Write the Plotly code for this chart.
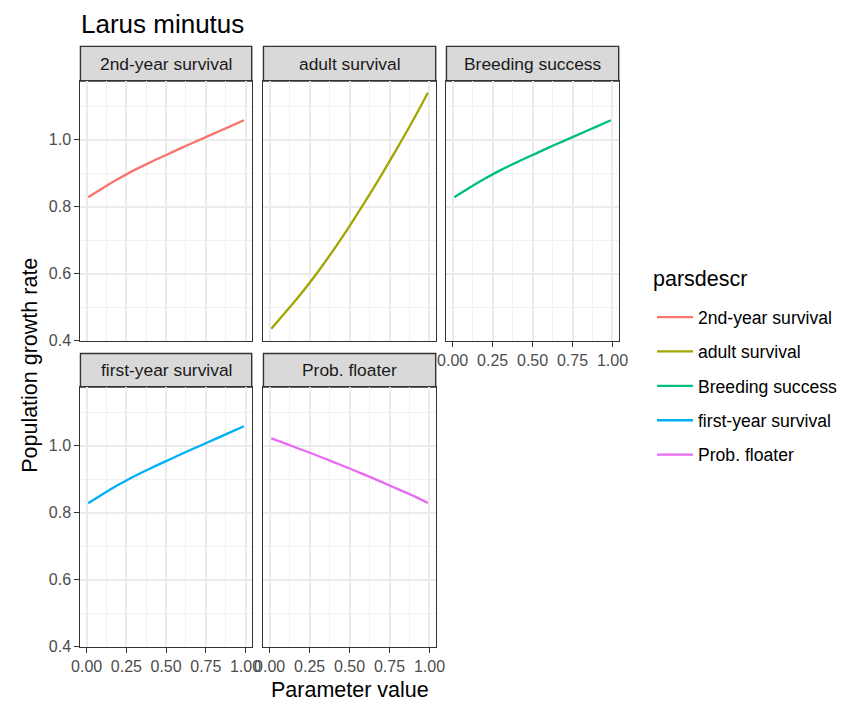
import plotly.graph_objects as go

# Parameter values along which the growth rate was evaluated
param_value = [0.01, 0.1, 0.2, 0.3, 0.4, 0.5, 0.6, 0.7, 0.8, 0.9, 0.99]

# Population growth rate per perturbed parameter
second_year_survival = [0.828, 0.855, 0.883, 0.909, 0.932, 0.954, 0.976, 0.997, 1.018, 1.039, 1.058]
adult_survival = [0.435, 0.485, 0.542, 0.604, 0.671, 0.742, 0.817, 0.895, 0.976, 1.060, 1.140]
breeding_success = [0.828, 0.855, 0.883, 0.909, 0.932, 0.954, 0.976, 0.997, 1.018, 1.039, 1.058]
first_year_survival = [0.828, 0.855, 0.883, 0.909, 0.932, 0.954, 0.976, 0.997, 1.018, 1.039, 1.058]
prob_floater = [1.022, 1.006, 0.988, 0.970, 0.951, 0.932, 0.912, 0.892, 0.871, 0.850, 0.829]

panel_names = ["2nd-year survival", "adult survival", "Breeding success",
               "first-year survival", "Prob. floater"]
panel_values = [second_year_survival, adult_survival, breeding_success,
                first_year_survival, prob_floater]
panel_colors = ["#F8766D", "#A3A500", "#00BF7D", "#00B0F6", "#E76BF3"]

x_ticks = [0.0, 0.25, 0.5, 0.75, 1.0]
x_tick_text = ["0.00", "0.25", "0.50", "0.75", "1.00"]
y_ticks = [0.4, 0.6, 0.8, 1.0]
y_tick_text = ["0.4", "0.6", "0.8", "1.0"]

W, H = 843, 708
FONT = "Liberation Sans, Arial, sans-serif"

# ggplot-like 5% expansion of the shared scales
def expand(lo, hi, f=0.05):
    d = (hi - lo) * f
    return [lo - d, hi + d]

all_y = [v for s in panel_values for v in s]
x_range = expand(min(param_value), max(param_value))
y_range = expand(min(all_y), max(all_y))

# panel geometry in pixels
cols_px = [(73, 248), (260, 436), (447, 623)]
rows_px = [(82, 345), (392, 655)]
strips_px = [(47, 82), (358, 392)]

def xd(a, b):
    return [a / W, b / W]

def yd(a, b):
    return [1 - b / H, 1 - a / H]

fig = go.Figure()
shapes = []
annotations = []
layout_axes = {}

for i, (name, vals, col) in enumerate(zip(panel_names, panel_values, panel_colors)):
    r, c = divmod(i, 3)
    n = i + 1
    xa = "x" if n == 1 else f"x{n}"
    ya = "y" if n == 1 else f"y{n}"
    fig.add_trace(go.Scatter(
        x=param_value, y=vals, mode="lines", name=name,
        line=dict(color=col, width=2.3, shape="spline", smoothing=1.0),
        xaxis=xa, yaxis=ya, legendgroup=name, showlegend=True,
    ))
    show_x = (r == 1) or (r == 0 and c == 2)
    show_y = c == 0
    x0, x1 = cols_px[c]
    y0, y1 = rows_px[r]
    layout_axes["xaxis" if n == 1 else f"xaxis{n}"] = dict(
        domain=xd(x0, x1), anchor=ya, range=x_range,
        tickvals=x_ticks, ticktext=x_tick_text, showticklabels=show_x,
        ticks="outside" if show_x else "", ticklen=5, tickwidth=1.4, tickcolor="#333333",
        tickfont=dict(family=FONT, size=16, color="#4D4D4D"),
        showgrid=True, gridcolor="#EBEBEB", gridwidth=2,
        minor=dict(dtick=0.125, tick0=0, showgrid=True, gridcolor="#F2F2F2", gridwidth=1),
        showline=True, linecolor="#333333", linewidth=1.4, mirror=True,
        zeroline=False, fixedrange=True,
    )
    layout_axes["yaxis" if n == 1 else f"yaxis{n}"] = dict(
        domain=yd(y0, y1), anchor=xa, range=y_range,
        tickvals=y_ticks, ticktext=y_tick_text, showticklabels=show_y,
        ticks="outside" if show_y else "", ticklen=5, tickwidth=1.4, tickcolor="#333333",
        tickfont=dict(family=FONT, size=16, color="#4D4D4D"),
        showgrid=True, gridcolor="#EBEBEB", gridwidth=2,
        minor=dict(dtick=0.1, tick0=0.4, showgrid=True, gridcolor="#F2F2F2", gridwidth=1),
        showline=True, linecolor="#333333", linewidth=1.4, mirror=True,
        zeroline=False, fixedrange=True,
    )
    # facet strip
    s0, s1 = strips_px[r]
    shapes.append(dict(
        type="rect", xref="paper", yref="paper",
        x0=x0 / W, x1=x1 / W, y0=1 - s1 / H, y1=1 - s0 / H,
        fillcolor="#D9D9D9", line=dict(color="#333333", width=1.4), layer="below",
    ))
    annotations.append(dict(
        text=name, xref="paper", yref="paper",
        x=(x0 + x1) / 2 / W, y=1 - (s0 + s1) / 2 / H,
        xanchor="center", yanchor="middle", showarrow=False,
        font=dict(family=FONT, size=17.4, color="#1A1A1A"),
    ))

# title, axis titles and legend heading
annotations.append(dict(
    text="Larus minutus", xref="paper", yref="paper", x=72 / W, y=1 - 24 / H,
    xanchor="left", yanchor="middle", showarrow=False,
    font=dict(family=FONT, size=26, color="#000000"),
))
annotations.append(dict(
    text="Parameter value", xref="paper", yref="paper", x=348 / W, y=1 - 699 / H,
    xanchor="center", yanchor="middle", showarrow=False,
    font=dict(family=FONT, size=21.5, color="#000000"),
))
annotations.append(dict(
    text="Population growth rate", xref="paper", yref="paper", x=22 / W, y=1 - 370 / H,
    xanchor="center", yanchor="middle", showarrow=False, textangle=-90,
    font=dict(family=FONT, size=21.5, color="#000000"),
))
annotations.append(dict(
    text="parsdescr", xref="paper", yref="paper", x=656 / W, y=1 - 283 / H,
    xanchor="left", yanchor="middle", showarrow=False,
    font=dict(family=FONT, size=21.5, color="#000000"),
))

fig.update_layout(
    width=W, height=H,
    margin=dict(l=0, r=0, t=0, b=0),
    paper_bgcolor="white", plot_bgcolor="white",
    shapes=shapes, annotations=annotations,
    legend=dict(
        font=dict(family=FONT, size=17.6, color="#000000"),
        x=657 / W, y=1 - 303 / H, xanchor="left", yanchor="top",
        itemwidth=36, tracegroupgap=8.5, bgcolor="rgba(0,0,0,0)",
    ),
    **layout_axes,
)

fig.write_html("out.html")
